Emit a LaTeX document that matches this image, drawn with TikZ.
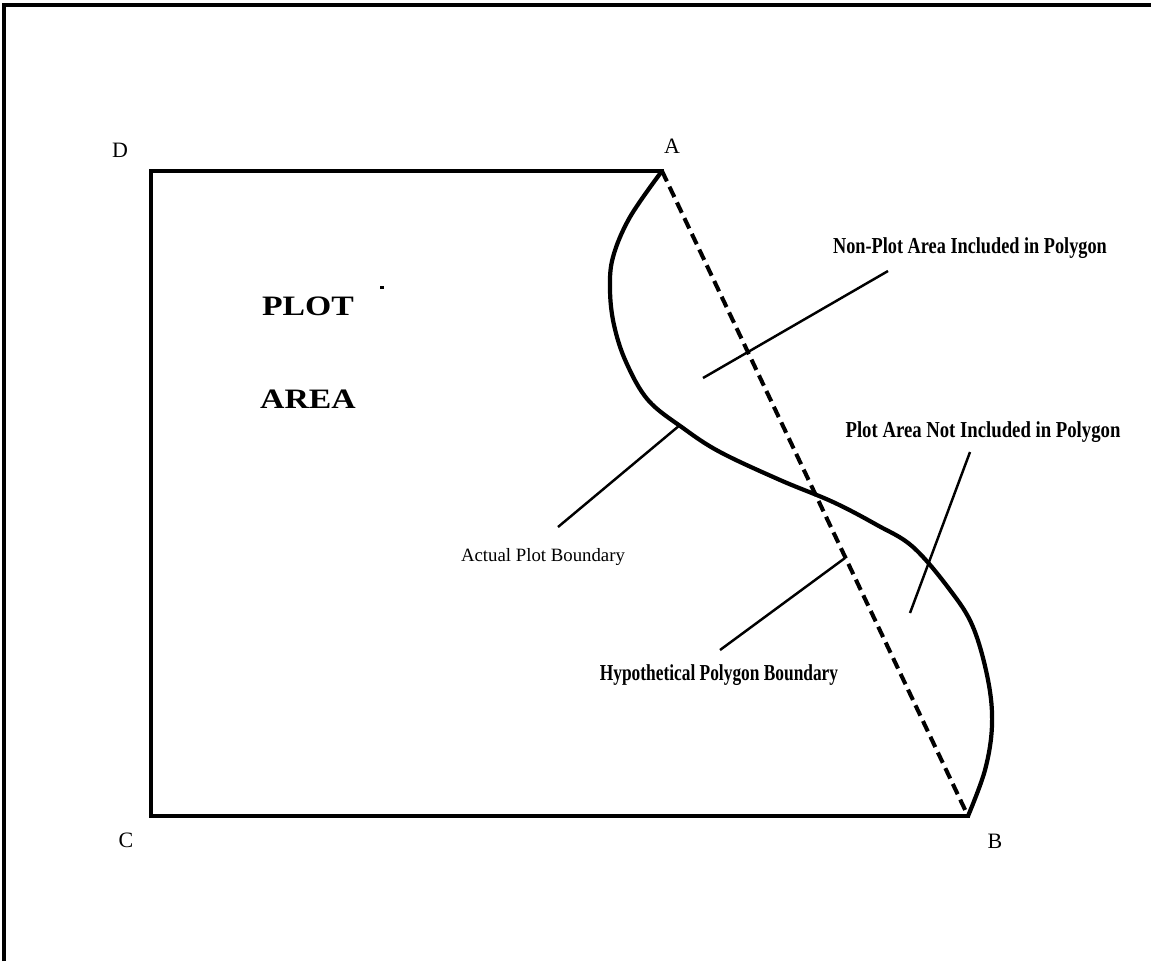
\documentclass[tikz,border=0pt]{standalone}
\usepackage{fontspec}
\setmainfont{Liberation Serif}
\usetikzlibrary{positioning}

\begin{document}
\begin{tikzpicture}[
  x=0.02cm, y=-0.02cm,
  corner/.style={font=\fontsize{12.5}{14}\selectfont, inner sep=0pt},
  heavy/.style={font=\fontsize{13}{15}\selectfont\bfseries, inner sep=0pt},
  big/.style={font=\fontsize{16}{18}\selectfont\bfseries, inner sep=0pt, xscale=1.2},
  plain/.style={font=\fontsize{10.7}{12}\selectfont, inner sep=0pt},
  edge/.style={line width=2.8pt, line cap=rect},
  curve/.style={line width=2.4pt, line join=round},
  poly/.style={line width=2.3pt, dash pattern=on 6.5pt off 3.4pt},
  lead/.style={line width=1.4pt}
]
\useasboundingbox (0,0) rectangle (1151,961);

% frame
\draw[line width=2.4pt] (4,961) -- (4,5) -- (1151,5);

% plot corners
\coordinate (a) at (662,171);
\coordinate (b) at (968,816);
\coordinate (c) at (151,816);
\coordinate (d) at (151,171);

\draw[edge] (a) -- (d) -- (c) -- (b);
\draw[poly] (a) -- (b);

% actual boundary
\draw[curve] plot[smooth, tension=0.6] coordinates {
  (662,171) (630,217) (613,257) (610,290) (614,325) (626,362) (648,400)
  (683,428) (720,452) (780,480) (833,502) (877,525) (913,547) (950,590)
  (973,627) (988,680) (992,725) (985,770) (968,816)};

\node[corner] (labA) at (672,146) {A};
\node[corner] (labB) at (995,841) {B};
\node[corner] (labC) at (126,840) {C};
\node[corner] (labD) at (120,150) {D};

\node[big] (plot) at (308,306) {PLOT};
\node[big, below=1.47cm of plot] (area) {AREA};
\fill (380,286) rectangle (384,289);

% callouts
\node[heavy, xscale=0.8] (nonplot) at (970,248) {Non-Plot Area Included in Polygon};
\node[heavy, xscale=0.82] (notincl) at (983,432) {Plot Area Not Included in Polygon};
\node[heavy, xscale=0.76] (hyp) at (719,675) {Hypothetical Polygon Boundary};
\node[plain] (actual) at (543,557) {Actual Plot Boundary};

\coordinate (np1) at (703,378);
\coordinate (np2) at (888,271);
\coordinate (ni1) at (970,452);
\coordinate (ni2) at (910,613);
\coordinate (hp1) at (720,650);
\coordinate (hp2) at (845,558);
\coordinate (ab1) at (558,527);
\coordinate (ab2) at (680,425);

\draw[lead] (np1) -- (np2);
\draw[lead] (ni1) -- (ni2);
\draw[lead] (hp1) -- (hp2);
\draw[lead] (ab1) -- (ab2);

\end{tikzpicture}
\end{document}
